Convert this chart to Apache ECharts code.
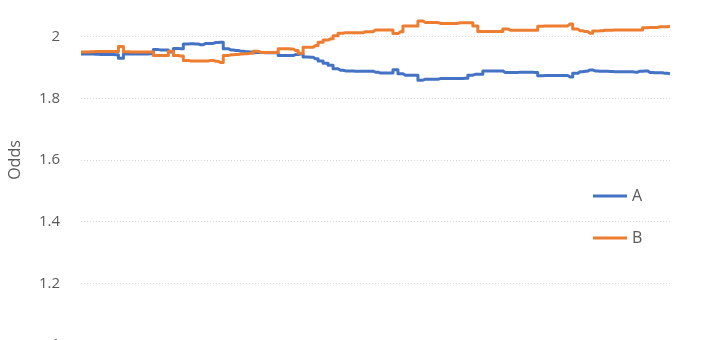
<!DOCTYPE html>
<html>
<head>
<meta charset="utf-8">
<script src="https://cdn.jsdelivr.net/npm/echarts@6/dist/echarts.min.js"></script>
<style>
html,body{margin:0;padding:0;background:#fff;}
#chart{width:720px;height:340px;}
</style>
</head>
<body>
<div id="chart"></div>
<script>
// Series values, sampled left to right at equal steps
var seriesA = [
1.944,1.944,1.944,1.943,1.942,1.942,1.942,1.941,1.930,1.944,
1.944,1.944,1.944,1.944,1.945,1.958,1.957,1.957,1.950,1.962,
1.961,1.976,1.977,1.976,1.974,1.978,1.978,1.981,1.982,1.961,
1.957,1.955,1.953,1.951,1.950,1.949,1.949,1.948,1.948,1.948,
1.939,1.939,1.939,1.942,1.944,1.934,1.933,1.928,1.921,1.914,
1.907,1.896,1.891,1.889,1.889,1.888,1.888,1.888,1.888,1.885,
1.882,1.882,1.882,1.893,1.880,1.875,1.875,1.875,1.859,1.862,
1.862,1.862,1.864,1.864,1.864,1.864,1.864,1.865,1.875,1.878,
1.878,1.889,1.889,1.889,1.889,1.884,1.884,1.884,1.885,1.885,
1.885,1.884,1.873,1.874,1.874,1.874,1.874,1.874,1.869,1.881,
1.886,1.888,1.892,1.889,1.888,1.888,1.887,1.886,1.886,1.886,
1.886,1.885,1.888,1.889,1.884,1.883,1.883,1.881,1.880
];
var seriesB = [
1.950,1.950,1.951,1.952,1.952,1.952,1.952,1.952,1.968,1.951,
1.950,1.950,1.950,1.950,1.950,1.939,1.939,1.939,1.953,1.939,
1.937,1.923,1.921,1.921,1.921,1.921,1.923,1.920,1.916,1.939,
1.941,1.942,1.944,1.945,1.946,1.953,1.949,1.949,1.949,1.949,
1.961,1.961,1.960,1.955,1.946,1.966,1.966,1.971,1.982,1.989,
1.993,2.003,2.011,2.013,2.013,2.013,2.013,2.016,2.016,2.022,
2.022,2.022,2.022,2.010,2.016,2.035,2.035,2.035,2.051,2.046,
2.046,2.046,2.043,2.043,2.043,2.043,2.045,2.045,2.045,2.035,
2.017,2.017,2.017,2.017,2.017,2.025,2.021,2.021,2.021,2.021,
2.021,2.021,2.034,2.035,2.035,2.035,2.035,2.035,2.041,2.025,
2.019,2.017,2.011,2.018,2.019,2.021,2.021,2.022,2.022,2.022,
2.022,2.022,2.022,2.029,2.030,2.030,2.032,2.032,2.034
];
var seriesNames = ['A', 'B'];
var yTicks = [1, 1.2, 1.4, 1.6, 1.8, 2, 2.2];
var categories = seriesA.map(function (v, i) { return i + 1; });

var chart = echarts.init(document.getElementById('chart'), null, {renderer: 'canvas'});
var font = '"Open Sans", "Noto Sans", "Liberation Sans", sans-serif';
chart.setOption({
  animation: false,
  backgroundColor: '#ffffff',
  grid: {left: 81, right: 50, top: -25, bottom: -5, containLabel: false, outerBoundsMode: 'none'},
  legend: {
    orient: 'vertical',
    left: 588,
    top: 183,
    itemWidth: 34,
    itemHeight: 3,
    itemGap: 26,
    icon: 'rect',
    textStyle: {fontFamily: font, fontSize: 16, color: '#595959'},
    data: seriesNames
  },
  xAxis: {
    type: 'category',
    data: categories,
    boundaryGap: false,
    axisLine: {show: false},
    axisTick: {show: false},
    axisLabel: {show: false},
    splitLine: {show: false}
  },
  yAxis: {
    type: 'value',
    min: yTicks[0],
    max: yTicks[yTicks.length - 1],
    interval: 0.2,
    name: 'Odds',
    nameLocation: 'middle',
    nameGap: 58,
    nameTextStyle: {fontFamily: font, fontSize: 16, color: '#595959'},
    axisLine: {show: false},
    axisTick: {show: false},
    axisLabel: {
      margin: 21,
      fontFamily: font,
      fontSize: 15,
      color: '#595959',
      formatter: function (v) { return String(parseFloat(v.toFixed(1))); }
    },
    splitLine: {lineStyle: {color: '#d9d9d9', type: [1, 2], width: 1}}
  },
  series: [
    {name: seriesNames[0], type: 'line', data: seriesA, showSymbol: false, symbol: 'none', step: 'middle',
     lineStyle: {color: '#4472C4', width: 3, join: 'round'}, itemStyle: {color: '#4472C4'}},
    {name: seriesNames[1], type: 'line', data: seriesB, showSymbol: false, symbol: 'none', step: 'middle',
     lineStyle: {color: '#ED7D31', width: 3, join: 'round'}, itemStyle: {color: '#ED7D31'}}
  ]
});
</script>
</body>
</html>
